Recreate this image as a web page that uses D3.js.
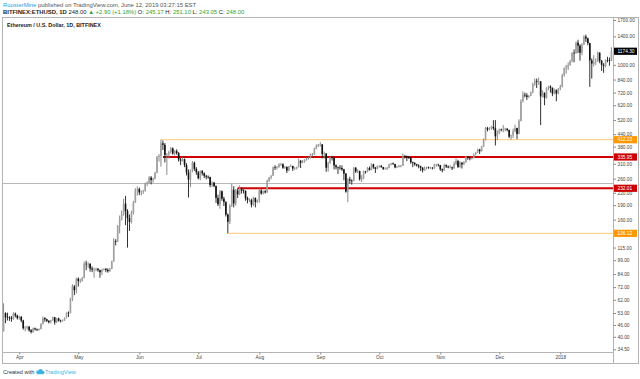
<!DOCTYPE html>
<html><head><meta charset="utf-8">
<script src="https://cdn.jsdelivr.net/npm/d3@7"></script>
<style>
html,body{margin:0;padding:0;background:#fff;}
svg{display:block;font-family:"Liberation Sans",Arial,sans-serif;}
</style></head><body>
<svg id="c" width="640" height="379"></svg>
<script>
// ---------- DATA (daily [open, high, low, close]) ----------
const startDate = "2017-03-24";
const mar2017 = [[42.8,59.5,42.5,52.9],[52.9,53.5,47.0,50.4],[50.4,53.2,48.5,50.3],[50.3,51.0,48.3,50.0],[50.0,51.2,47.8,49.4],[49.4,53.5,48.9,52.6],[52.6,53.3,50.3,51.5],[51.5,51.9,49.1,49.9]];
const apr2017 = [[49.9,51.3,48.9,50.7],[50.7,51.0,47.5,48.5],[48.5,48.9,43.5,44.3],[44.3,45.4,42.7,44.6],[44.6,45.6,43.6,45.1],[45.1,45.4,42.5,43.2],[43.2,43.8,41.6,42.4],[42.4,44.6,41.9,44.2],[44.2,44.6,43.1,43.7],[43.7,44.1,42.8,43.4],[43.4,44.2,43.0,43.9],[43.9,46.9,43.7,46.6],[46.6,50.8,46.3,49.9],[49.9,50.4,47.8,49.2],[49.2,49.6,47.6,48.3],[48.3,48.7,46.8,47.6],[47.6,48.9,46.9,48.6],[48.6,50.8,48.3,50.4],[50.4,50.6,46.2,47.5],[47.5,50.0,47.1,49.7],[49.7,50.2,47.9,48.4],[48.4,49.0,47.4,48.3],[48.3,49.1,47.8,48.6],[48.6,50.3,48.3,50.0],[50.0,53.4,49.8,53.2],[53.2,54.0,50.6,53.0],[53.0,63.5,52.8,62.9],[62.9,74.5,61.0,72.6],[72.6,73.8,65.5,69.4],[69.4,80.5,66.8,79.6]];
const may2017 = [[79.6,80.8,72.5,77.3],[77.3,79.5,75.6,77.6],[77.6,81.2,76.9,80.4],[80.4,97.5,79.8,95.0],[95.0,98.5,88.0,94.8],[94.8,96.6,90.5,95.0],[95.0,95.4,86.5,89.8],[89.8,92.0,86.0,88.6],[88.6,90.5,80.5,88.7],[88.7,90.5,86.9,89.5],[89.5,90.2,86.4,88.0],[88.0,88.5,80.5,85.9],[85.9,89.5,83.0,88.5],[88.5,90.0,87.6,89.4],[89.4,90.2,85.9,88.3],[88.3,90.0,85.5,87.0],[87.0,90.3,86.3,89.5],[89.5,98.5,89.0,97.7],[97.7,128.5,97.2,124.5],[124.5,127.0,118.0,123.5],[123.5,150.0,122.8,148.5],[148.5,168.0,136.0,160.5],[160.5,178.0,158.5,171.0],[171.0,205.0,168.0,193.5],[193.5,212.0,150.0,177.0],[177.0,181.0,115.0,163.0],[163.0,170.0,140.0,156.0],[156.0,178.0,153.0,173.0],[173.0,200.0,170.0,196.5],[196.5,232.0,195.0,228.0],[228.0,237.0,213.0,230.0]];
const jun2017 = [[230,234,214,221],[221,226,213,223],[223,228,217,225],[225,248,223,245],[245,252,238,248],[248,268,245,263],[263,268,243,256],[256,263,248,260],[260,282,258,279],[279,340,277,336],[336,348,318,340],[340,412.23,300,395],[395,408,365,388],[388,396,315,344],[344,352,272,346],[346,362,330,356],[356,378,350,372],[372,376,345,350],[350,365,342,360],[360,368,345,352],[352,356,318,326],[326,332,305,322],[322,336,318,327],[327,330,298,305],[305,312,270,280],[280,290,208,257],[257,290,235,287],[287,320,280,314],[314,318,285,292],[292,298,272,280]];
const jul2017 = [[280,285,258,261],[261,287,255,284],[284,288,270,277],[277,280,262,269],[269,272,258,266],[266,270,260,265],[265,266,235,241],[241,252,236,248],[248,250,235,238],[238,240,195,207],[207,215,188,192],[192,227,182,224],[224,226,200,205],[205,210,188,197],[197,199,166,170],[170,172,136.12,156],[156,192,152,189],[189,245,186,228],[228,238,185,194],[194,230,189,226],[226,232,207,216],[216,240,214,232],[232,234,218,226],[226,229,218,225],[225,226,200,206],[206,210,194,202],[202,206,197,202],[202,205,185,191],[191,210,188,207],[207,208,185,197],[197,203,195,202]];
const aug2017 = [[202,232,196,226],[226,229,215,218],[218,226,216,224],[224,227,218,221],[221,257,220,253],[253,265,250,264],[264,271,258,269],[269,300,268,297],[297,305,288,296],[296,302,290,298],[298,312,296,308],[308,313,302,308],[308,312,292,296],[296,302,292,299],[299,300,278,286],[286,302,284,301],[301,308,298,302],[302,303,285,293],[293,298,288,294],[294,300,290,298],[298,330,297,321],[321,324,295,314],[314,324,312,317],[317,327,314,325],[325,334,322,331],[331,335,326,333],[333,350,330,347],[347,352,338,347],[347,375,345,372],[372,390,368,383],[383,392,378,388]];
const sep2017 = [[388,400,380,390],[390,392,330,348],[348,358,330,350],[350,352,282,296],[296,318,282,313],[313,338,310,334],[334,338,322,332],[332,334,290,304],[304,308,290,298],[298,300,275,296],[296,305,289,295],[295,304,285,290],[290,292,255,276],[276,278,220,223],[223,262,197,258],[258,266,245,254],[254,258,242,253],[253,298,252,296],[296,298,278,283],[283,291,278,284],[284,286,254,258],[258,271,250,262],[262,286,258,283],[283,285,276,282],[282,298,280,295],[295,300,286,288],[288,312,287,308],[308,310,292,297],[297,298,278,292],[292,304,290,302]];
const oct2017 = [[302,305,296,302],[302,306,296,298],[298,299,288,292],[292,297,290,292],[292,298,288,296],[296,310,294,308],[308,313,304,311],[311,315,306,309],[309,310,294,297],[297,303,295,299],[299,306,297,303],[303,306,297,303],[303,350,302,338],[338,344,330,337],[337,342,320,335],[335,340,328,334],[334,335,310,316],[316,318,298,313],[313,316,303,308],[308,310,300,304],[304,308,294,301],[301,303,285,296],[296,298,280,287],[287,300,285,297],[297,300,290,297],[297,300,292,296],[296,299,292,296],[296,298,290,294],[294,310,292,307],[307,310,300,307],[307,310,300,305]];
const nov2017 = [[305,306,285,291],[291,293,280,287],[287,310,285,305],[305,308,295,300],[300,304,294,297],[297,305,294,297],[297,300,288,294],[294,318,292,309],[309,330,306,320],[320,325,295,299],[299,320,296,314],[314,316,293,308],[308,320,305,316],[316,340,314,337],[337,338,325,333],[333,336,323,330],[330,336,326,332],[332,350,330,347],[347,357,343,354],[354,370,352,367],[367,370,348,360],[360,383,358,381],[381,418,378,410],[410,480,408,474],[474,480,455,466],[466,478,460,471],[471,486,464,480],[480,520,462,472],[472,520,385,429],[429,460,410,447]];
const dec2017 = [[447,470,440,466],[466,470,455,463],[463,490,450,465],[465,475,455,470],[470,472,455,463],[463,464,420,428],[428,438,412,434],[434,470,420,456],[456,492,450,473],[473,475,415,441],[441,525,440,515],[515,665,512,651],[651,730,640,702],[702,720,680,696],[696,715,660,684],[684,700,675,693],[693,730,690,720],[720,810,715,794],[794,850,780,827],[827,850,760,819],[819,860,790,821],[821,825,490,688],[688,740,680,718],[718,722,620,677],[677,765,670,762],[762,780,740,773],[773,785,720,762],[762,765,690,712],[712,755,705,742],[742,748,650,712],[712,760,705,756]];
const jan2018 = [[756,790,740,772],[772,900,765,884],[884,970,870,962],[962,1000,900,980],[980,1030,940,997],[997,1060,990,1041],[1041,1160,1030,1153],[1153,1200,1030,1148],[1148,1320,1140,1299],[1299,1345,1150,1255],[1255,1275,1050,1154],[1154,1290,1120,1273],[1273,1420,1265,1396],[1396,1430,1310,1366],[1366,1380,1260,1292],[1292,1300,770,1054],[1054,1080,850,1015],[1015,1120,980,1036],[1036,1080,1000,1039],[1039,1170,1035,1155],[1155,1160,1020,1049],[1049,1060,930,1000],[1000,1020,910,988],[988,1065,970,1058],[1058,1100,1030,1056],[1056,1090,990,1053],[1053,1230,1045,1174.3]];

const priceTicks = [1700,1400,1000,840,720,620,520,440,380,310,260,220,190,160,115,99,84,72,62,53,46,40,34.5];
const monthTickDates = ["2017-04-01","2017-05-01","2017-06-01","2017-07-01","2017-08-01","2017-09-01","2017-10-01","2017-11-01","2017-12-01","2018-01-01"];
const monthTickLabels = ["Apr","May","Jun","Jul","Aug","Sep","Oct","Nov","Dec","2018"];

const levelValues = [412.23, 335.95, 232.01, 136.12];
const levelStartDates = ["2017-06-12","2017-06-13","2017-07-21","2017-07-16"];
const levelKinds = ["orange","red","red","orange"];
const currentPrice = 248.00;
const lastLabelValue = 1174.30;

// ---------- CHART ----------
const svg = d3.select("#c");
const P = {left:2, right:613, top:17, bottom:352};
const parse = d3.utcParse("%Y-%m-%d");
const start = parse(startDate);
const rows = [].concat(mar2017,apr2017,may2017,jun2017,jul2017,aug2017,sep2017,oct2017,nov2017,dec2017,jan2018);
const candles = rows.map((r,i)=>({date:d3.utcDay.offset(start,i),o:r[0],h:r[1],l:r[2],c:r[3]}));

const x = d3.scaleUtc().domain([parse("2017-04-01"), parse("2018-01-01")]).range([19.3, 560.3]);
const y = d3.scaleLog().domain([34.5,1700]).range([349.3,20]);

// header
const hdr = svg.append("g").attr("font-size",5.9);
const t1 = hdr.append("text").attr("x",3).attr("y",7).attr("fill","#555");
t1.append("tspan").attr("fill","#2b9be0").text("RoosterMine");
t1.append("tspan").text(" published on TradingView.com, June 12, 2019 03:27:15 EST");
const t2 = hdr.append("text").attr("x",3).attr("y",14.2).attr("fill","#222");
t2.append("tspan").attr("font-weight","bold").text("BITFINEX:ETHUSD, 1D");
t2.append("tspan").text(" 248.00 ");
t2.append("tspan").attr("fill","#33a02c").text("▲");
t2.append("tspan").attr("fill","#33a02c").text(" +2.90 (+1.18%)");
[["O:","245.17"],["H:","251.10"],["L:","243.05"],["C:","248.00"]].forEach(p=>{
  t2.append("tspan").text(" "+p[0]);
  t2.append("tspan").attr("fill","#33a02c").text(" "+p[1]);
});

// frame
svg.append("rect").attr("x",2.5).attr("y",17.5).attr("width",636).attr("height",346)
  .attr("fill","none").attr("stroke","#b4b4b4").attr("stroke-width",1);
svg.append("line").attr("x1",P.left).attr("x2",P.right).attr("y1",P.bottom+0.5).attr("y2",P.bottom+0.5)
  .attr("stroke","#b4b4b4");
svg.append("line").attr("x1",P.right+0.5).attr("x2",P.right+0.5).attr("y1",P.top).attr("y2",363.5)
  .attr("stroke","#b4b4b4");

svg.append("text").attr("x",7).attr("y",27).attr("font-size",5.4).attr("font-weight","bold")
  .attr("fill","#222").text("Ethereum / U.S. Dollar, 1D, BITFINEX");

// clip
svg.append("clipPath").attr("id","clip").append("rect")
  .attr("x",P.left+1).attr("y",P.top+1).attr("width",P.right-P.left-1).attr("height",P.bottom-P.top-1);
const g = svg.append("g").attr("clip-path","url(#clip)");

// current price line
g.append("line").attr("x1",P.left).attr("x2",P.right)
  .attr("y1",Math.round(y(currentPrice))+0.5).attr("y2",Math.round(y(currentPrice))+0.5)
  .attr("stroke","#b8b8b8").attr("stroke-width",1);

// level lines
levelValues.forEach((v,i)=>{
  const red = levelKinds[i]==="red";
  g.append("line").attr("x1",x(parse(levelStartDates[i]))).attr("x2",P.right)
    .attr("y1",y(v)).attr("y2",y(v))
    .attr("stroke",red?"#d10000":"#ffc877").attr("stroke-width",red?2:1);
});

// candles
const cg = g.append("g");
cg.selectAll("line.w").data(candles).join("line").attr("class","w")
  .attr("x1",d=>x(d.date)).attr("x2",d=>x(d.date))
  .attr("y1",d=>y(d.h)).attr("y2",d=>y(d.l))
  .attr("stroke",d=>d.c>=d.o?"#7c7c7c":"#1a1a1a").attr("stroke-width",0.9);
cg.selectAll("rect.b").data(candles).join("rect").attr("class","b")
  .attr("x",d=>x(d.date)-0.8).attr("width",1.6)
  .attr("y",d=>y(Math.max(d.o,d.c)))
  .attr("height",d=>Math.max(0.6,Math.abs(y(d.o)-y(d.c))))
  .attr("fill",d=>d.c>=d.o?"#a0a0a0":"#111");

// y axis
const ya = svg.append("g").attr("transform",`translate(${P.right+0.5},0)`)
  .call(d3.axisRight(y).tickValues(priceTicks).tickFormat(d3.format(".2f")).tickSize(2.5).tickPadding(1.5));
ya.select(".domain").remove();
ya.selectAll(".tick line").attr("stroke","#888");
ya.selectAll(".tick text").attr("font-size",4.8).attr("fill","#444").attr("font-family","Liberation Sans, Arial, sans-serif");

// x axis
const xa = svg.append("g").attr("transform",`translate(0,${P.bottom+0.5})`)
  .call(d3.axisBottom(x).tickValues(monthTickDates.map(parse)).tickFormat((d,i)=>monthTickLabels[i]).tickSize(2).tickPadding(1.5));
xa.select(".domain").remove();
xa.selectAll(".tick line").attr("stroke","#888");
xa.selectAll(".tick text").attr("font-size",4.8).attr("fill","#444").attr("font-family","Liberation Sans, Arial, sans-serif");

// price labels
function priceLabel(v, bg){
  const yy = y(v);
  const lg = svg.append("g");
  lg.append("rect").attr("x",P.right+1).attr("y",yy-3.6).attr("width",23).attr("height",7.2).attr("fill",bg);
  lg.append("text").attr("x",P.right+4.5).attr("y",yy).attr("dy","0.35em").attr("font-size",4.8)
    .attr("fill","#fff").text(d3.format(".2f")(v));
}
levelValues.forEach((v,i)=>priceLabel(v, levelKinds[i]==="red"?"#cc0000":"#ff9800"));
priceLabel(lastLabelValue, "#000");

// footer
const f = svg.append("g");
f.append("text").attr("x",3).attr("y",374).attr("font-size",5.6).attr("fill","#333").text("Created with");
const logo = f.append("g").attr("transform","translate(36,369)").attr("fill","#3bb3e4");
logo.append("circle").attr("cx",2.2).attr("cy",3.2).attr("r",1.9);
logo.append("circle").attr("cx",4.6).attr("cy",2.2).attr("r",2.2);
logo.append("circle").attr("cx",6.8).attr("cy",3.4).attr("r",1.7);
logo.append("rect").attr("x",1.2).attr("y",3.2).attr("width",6.4).attr("height",2);
f.append("text").attr("x",45).attr("y",374).attr("font-size",5.6).attr("fill","#3bb3e4").text("TradingView");
</script>
</body></html>
